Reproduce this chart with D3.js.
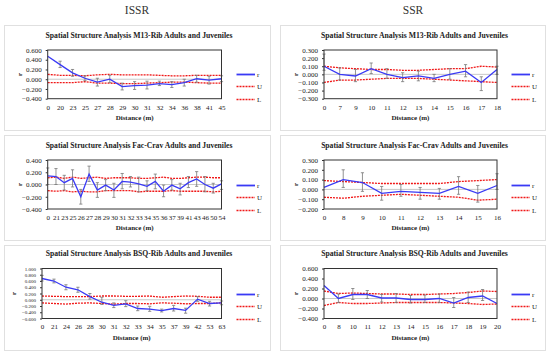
<!DOCTYPE html>
<html>
<head>
<meta charset="utf-8">
<script src="https://cdn.jsdelivr.net/npm/d3@7"></script>
<style>
  html, body { margin: 0; padding: 0; background: #fff; }
  svg { display: block; }
  text { font-family: "Liberation Serif", "DejaVu Serif", serif; fill: #222; }
</style>
</head>
<body>
<svg id="chart" width="550" height="357"></svg>
<script>
// ---------------- DATA ----------------
const columnHeaders = ["ISSR", "SSR"];
const legendLabels = ["r", "U", "L"];
const xAxisTitle = "Distance (m)";
const yAxisTitle = "r";

// ISSR M13-Rib
const issrM13Title = "Spatial Structure Analysis M13-Rib Adults and Juveniles";
const issrM13Dist = ["0","20","23","25","27","28","29","30","31","32","34","36","38","41","45"];
const issrM13R    = [0.47,0.30,0.13,0.02,-0.06,0.00,-0.15,-0.13,-0.12,-0.09,-0.11,-0.07,0.01,-0.02,0.01];
const issrM13Lo   = [null,0.24,0.06,-0.03,-0.14,-0.07,-0.22,-0.21,-0.20,-0.13,-0.17,-0.14,-0.06,-0.10,-0.05];
const issrM13Hi   = [null,0.37,0.20,0.07,0.02,0.08,-0.08,-0.05,-0.04,-0.04,-0.05,0.00,0.08,0.06,0.07];
const issrM13U    = [0.10,0.08,0.08,0.07,0.09,0.10,0.09,0.09,0.09,0.08,0.07,0.07,0.08,0.08,0.08];
const issrM13L    = [-0.07,-0.07,-0.07,-0.05,-0.08,-0.08,-0.09,-0.09,-0.08,-0.07,-0.06,-0.06,-0.07,-0.08,-0.08];
const issrM13Ticks = [0.6,0.4,0.2,0,-0.2,-0.4];

// SSR M13-Rib
const ssrM13Title = "Spatial Structure Analysis M13-Rib Adults and Juveniles";
const ssrM13Dist = ["0","7","9","10","11","12","13","14","15","16","17","18"];
const ssrM13R    = [0.10,0.00,-0.02,0.07,0.00,-0.04,-0.02,-0.05,0.00,0.04,-0.10,0.06];
const ssrM13Lo   = [0.05,-0.07,-0.09,0.01,-0.05,-0.09,-0.08,-0.09,-0.06,-0.03,-0.20,0.00];
const ssrM13Hi   = [0.25,0.08,0.06,0.14,0.07,0.02,0.04,0.00,0.07,0.12,-0.03,0.10];
const ssrM13U    = [0.10,0.08,0.07,0.06,0.06,0.05,0.05,0.06,0.07,0.07,0.10,0.09];
const ssrM13L    = [-0.10,-0.07,-0.07,-0.06,-0.05,-0.05,-0.05,-0.06,-0.07,-0.08,-0.09,-0.10];
const ssrM13Ticks = [0.3,0.2,0.1,0,-0.1,-0.2,-0.3];

// ISSR Fac-Crav
const issrFacTitle = "Spatial Structure Analysis Fac-Crav Adults and Juveniles";
const issrFacDist = ["0","21","23","25","26","27","28","29","30","31","32","33","34","35","36","37","39","41","43","46","50","54"];
const issrFacR    = [0.14,0.13,0.03,0.10,-0.20,0.17,-0.09,-0.01,-0.09,0.05,0.04,0.01,-0.03,0.05,-0.11,-0.01,-0.07,0.03,0.09,0.00,-0.06,0.01];
const issrFacLo   = [0.00,0.00,-0.09,-0.04,-0.32,0.05,-0.21,-0.10,-0.21,-0.07,-0.04,-0.12,-0.10,-0.07,-0.20,-0.09,-0.17,-0.05,-0.03,-0.12,-0.14,-0.08];
const issrFacHi   = [0.27,0.26,0.15,0.24,-0.08,0.30,0.03,0.08,0.02,0.18,0.13,0.12,0.06,0.17,-0.01,0.08,0.02,0.13,0.21,0.13,0.02,0.06];
const issrFacU    = [0.11,0.12,0.10,0.12,0.10,0.11,0.12,0.10,0.11,0.11,0.11,0.10,0.10,0.11,0.12,0.10,0.10,0.11,0.12,0.12,0.11,0.11];
const issrFacL    = [-0.10,-0.11,-0.10,-0.12,-0.11,-0.12,-0.12,-0.10,-0.10,-0.10,-0.10,-0.12,-0.11,-0.11,-0.11,-0.10,-0.11,-0.11,-0.11,-0.11,-0.12,-0.11];
const issrFacTicks = [0.4,0.2,0,-0.2,-0.4];

// SSR Fac-Crav
const ssrFacTitle = "Spatial Structure Analysis Fac-Crav Adults and Juveniles";
const ssrFacDist = ["0","8","9","10","11","12","13","14","15","16"];
const ssrFacR    = [0.02,0.10,0.07,-0.04,-0.02,-0.03,-0.04,0.03,-0.04,0.04];
const ssrFacLo   = [null,0.02,-0.02,-0.11,-0.07,-0.10,-0.10,-0.05,-0.13,0.00];
const ssrFacHi   = [null,0.20,0.17,0.03,0.05,0.02,0.01,0.13,0.04,0.16];
const ssrFacU    = [0.09,0.08,0.07,0.06,0.06,0.06,0.06,0.08,0.09,0.10];
const ssrFacL    = [-0.08,-0.09,-0.07,-0.06,-0.05,-0.06,-0.07,-0.08,-0.11,-0.10];
const ssrFacTicks = [0.3,0.2,0.1,0,-0.1,-0.2];

// ISSR BSQ-Rib
const issrBsqTitle = "Spatial Structure Analysis BSQ-Rib Adults and Juveniles";
const issrBsqDist = ["0","21","24","26","28","30","31","32","33","34","35","37","39","42","53","63"];
const issrBsqR    = [0.68,0.60,0.40,0.32,0.10,-0.08,-0.18,-0.13,-0.28,-0.30,-0.35,-0.28,-0.34,0.02,-0.12,-0.10];
const issrBsqLo   = [0.60,0.54,0.32,0.24,0.02,-0.15,-0.25,-0.22,-0.35,-0.37,-0.39,-0.36,-0.43,-0.05,-0.20,-0.16];
const issrBsqHi   = [0.78,0.66,0.48,0.40,0.20,0.08,-0.10,-0.03,-0.20,-0.21,-0.30,-0.18,-0.27,0.10,-0.05,-0.04];
const issrBsqU    = [0.12,0.11,0.10,0.10,0.10,0.12,0.12,0.11,0.11,0.12,0.08,0.10,0.12,0.11,0.08,0.08];
const issrBsqL    = [-0.10,-0.12,-0.14,-0.11,-0.10,-0.12,-0.14,-0.12,-0.12,-0.13,-0.10,-0.11,-0.13,-0.12,-0.12,-0.10];
const issrBsqTicks = [1.0,0.8,0.6,0.4,0.2,0,-0.2,-0.4,-0.6];

// SSR BSQ-Rib
const ssrBsqTitle = "Spatial Structure Analysis BSQ-Rib Adults and Juveniles";
const ssrBsqDist = ["0","8","10","11","12","13","14","15","16","17","18","19","20"];
const ssrBsqR    = [0.26,0.00,0.08,0.08,0.01,0.01,-0.02,-0.02,0.00,-0.09,0.02,0.05,-0.10];
const ssrBsqLo   = [null,-0.08,-0.02,0.00,-0.07,-0.08,-0.09,-0.08,-0.08,-0.18,-0.08,-0.04,null];
const ssrBsqHi   = [null,0.09,0.20,0.16,0.08,0.10,0.06,0.07,0.09,0.02,0.13,0.18,null];
const ssrBsqU    = [0.15,0.10,0.11,0.10,0.09,0.09,0.08,0.08,0.09,0.10,0.12,0.15,0.14];
const ssrBsqL    = [-0.14,-0.08,-0.10,-0.10,-0.09,-0.08,-0.08,-0.08,-0.08,-0.09,-0.10,-0.12,-0.11];
const ssrBsqTicks = [0.6,0.4,0.2,0,-0.2,-0.4];

// ---------------- LAYOUT ----------------
const svg = d3.select("#chart");
const fmt = d3.format(".3f");

const colX = [
  { box: [4, 270], plot: [47.7, 221.5], legend: 236.5, header: 137 },
  { box: [280, 545], plot: [324, 497], legend: 511.5, header: 413 }
];
const rowY = [
  { box: [25, 130], plot: [50, 98.7], title: 37.5 },
  { box: [135, 240], plot: [160, 209], title: 147.5 },
  { box: [245, 350], plot: [268.5, 318.5], title: 256 }
];

const panels = [
  { col: 0, row: 0, title: issrM13Title, dist: issrM13Dist, r: issrM13R, lo: issrM13Lo, hi: issrM13Hi, u: issrM13U, l: issrM13L, ticks: issrM13Ticks, tickFont: 7 },
  { col: 1, row: 0, title: ssrM13Title, dist: ssrM13Dist, r: ssrM13R, lo: ssrM13Lo, hi: ssrM13Hi, u: ssrM13U, l: ssrM13L, ticks: ssrM13Ticks, tickFont: 7 },
  { col: 0, row: 1, title: issrFacTitle, dist: issrFacDist, r: issrFacR, lo: issrFacLo, hi: issrFacHi, u: issrFacU, l: issrFacL, ticks: issrFacTicks, tickFont: 7 },
  { col: 1, row: 1, title: ssrFacTitle, dist: ssrFacDist, r: ssrFacR, lo: ssrFacLo, hi: ssrFacHi, u: ssrFacU, l: ssrFacL, ticks: ssrFacTicks, tickFont: 7 },
  { col: 0, row: 2, title: issrBsqTitle, dist: issrBsqDist, r: issrBsqR, lo: issrBsqLo, hi: issrBsqHi, u: issrBsqU, l: issrBsqL, ticks: issrBsqTicks, tickFont: 5, plotLeft: 42 },
  { col: 1, row: 2, title: ssrBsqTitle, dist: ssrBsqDist, r: ssrBsqR, lo: ssrBsqLo, hi: ssrBsqHi, u: ssrBsqU, l: ssrBsqL, ticks: ssrBsqTicks, tickFont: 7 }
];

// column headers
columnHeaders.forEach((h, i) => {
  svg.append("text").attr("x", colX[i].header).attr("y", 14)
    .attr("text-anchor", "middle").style("font-size", "11.5px").style("fill", "#333").text(h);
});

const blue = "#3a3af5", red = "#f01818", errGray = "#777";

panels.forEach(p => {
  const c = colX[p.col], rw = rowY[p.row];
  const g = svg.append("g");
  // panel frame
  g.append("rect").attr("x", c.box[0] + 0.5).attr("y", rw.box[0] + 0.5)
    .attr("width", c.box[1] - c.box[0]).attr("height", rw.box[1] - rw.box[0])
    .attr("fill", "#fff").attr("stroke", "#e0e0e0").attr("stroke-width", 1);

  const left = p.plotLeft || c.plot[0];
  const right = c.plot[1];
  const top = rw.plot[0], bottom = rw.plot[1];

  const x = d3.scalePoint().domain(p.dist).range([left, right]).padding(0);
  const y = d3.scaleLinear().domain([d3.min(p.ticks), d3.max(p.ticks)]).range([bottom, top]);

  // title
  const t = g.append("text").attr("x", (c.box[0] + c.box[1]) / 2 + 2).attr("y", rw.title)
    .attr("text-anchor", "middle").style("font-weight", "bold").style("font-size", "8px").text(p.title);
  const w = t.node().getComputedTextLength();
  t.style("font-size", (8 * 187 / w).toFixed(2) + "px");

  // zero gridline
  g.append("line").attr("x1", left).attr("x2", right).attr("y1", y(0)).attr("y2", y(0))
    .attr("stroke", "#c8c8c8").attr("stroke-width", 1);

  // y axis
  const ya = g.append("g").attr("transform", `translate(${left},0)`)
    .call(d3.axisLeft(y).tickValues(p.ticks).tickFormat(fmt).tickSize(2).tickPadding(4));
  ya.select(".domain").remove();
  ya.selectAll("line").attr("stroke", "#333");
  ya.selectAll("text").style("font-size", p.tickFont + "px").style("font-family", '"Liberation Serif", serif').attr("fill", "#222");

  // x axis
  const xa = g.append("g").attr("transform", `translate(0,${bottom})`)
    .call(d3.axisBottom(x).tickSize(0).tickPadding(6));
  xa.select(".domain").remove();
  xa.selectAll("text").style("font-size", "7px").style("font-family", '"Liberation Serif", serif').attr("fill", "#222");

  // axis titles
  g.append("text").attr("x", (left + right) / 2).attr("y", bottom + 21)
    .attr("text-anchor", "middle").style("font-weight", "bold").style("font-size", "7px").text(xAxisTitle);
  g.append("text").attr("transform", `translate(${left - 26},${(top + bottom) / 2}) rotate(-90)`)
    .attr("text-anchor", "middle").style("font-weight", "bold").style("font-size", "7px").text(yAxisTitle);

  const idx = d3.range(p.dist.length);

  // U and L envelopes
  const lineU = d3.line().x(i => x(p.dist[i])).y(i => y(p.u[i]));
  const lineL = d3.line().x(i => x(p.dist[i])).y(i => y(p.l[i]));
  g.append("path").attr("d", lineU(idx)).attr("fill", "none").attr("stroke", red)
    .attr("stroke-width", 1.3).attr("stroke-dasharray", "2,1");
  g.append("path").attr("d", lineL(idx)).attr("fill", "none").attr("stroke", red)
    .attr("stroke-width", 1.3).attr("stroke-dasharray", "2,1");

  // error bars
  const eb = g.append("g").attr("stroke", errGray).attr("stroke-width", 0.8);
  idx.filter(i => p.lo[i] !== null && p.hi[i] !== null).forEach(i => {
    const xi = x(p.dist[i]);
    const y1 = y(Math.max(p.lo[i], y.domain()[0])), y2 = y(Math.min(p.hi[i], y.domain()[1]));
    eb.append("line").attr("x1", xi).attr("x2", xi).attr("y1", y1).attr("y2", y2);
    eb.append("line").attr("x1", xi - 1.6).attr("x2", xi + 1.6).attr("y1", y1).attr("y2", y1);
    eb.append("line").attr("x1", xi - 1.6).attr("x2", xi + 1.6).attr("y1", y2).attr("y2", y2);
  });

  // r line
  const lineR = d3.line().x(i => x(p.dist[i])).y(i => y(p.r[i]));
  g.append("path").attr("d", lineR(idx)).attr("fill", "none").attr("stroke", blue).attr("stroke-width", 1.3);

  // plot border
  g.append("rect").attr("x", left).attr("y", top).attr("width", right - left).attr("height", bottom - top)
    .attr("fill", "none").attr("stroke", "#333").attr("stroke-width", 1);

  // legend
  const mid = Math.round((top + bottom) / 2) + 0.5;
  const ly = [mid, mid + 12, mid + 25];
  legendLabels.forEach((lab, k) => {
    const ln = g.append("line").attr("x1", c.legend).attr("x2", c.legend + 18.5)
      .attr("y1", ly[k]).attr("y2", ly[k]).attr("stroke", k === 0 ? blue : red)
      .attr("stroke-width", k === 0 ? 1.8 : 1.3);
    if (k > 0) ln.attr("stroke-dasharray", "2,1");
    g.append("text").attr("x", c.legend + 20.5).attr("y", ly[k] + 2.3)
      .style("font-size", "7px").text(lab);
  });
});
</script>
</body>
</html>
